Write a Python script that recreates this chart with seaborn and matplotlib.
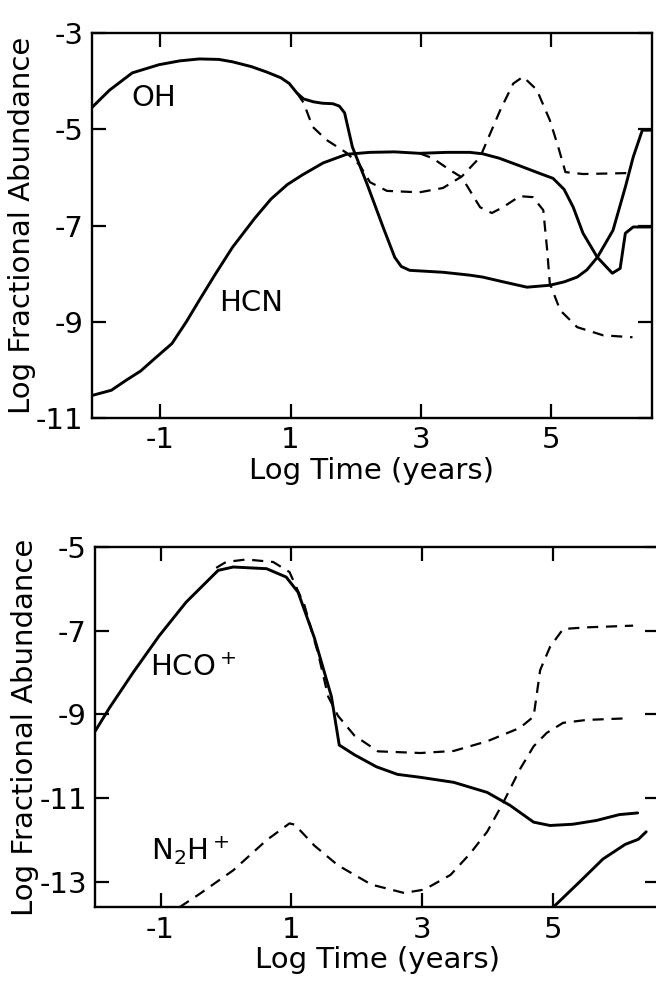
import matplotlib
matplotlib.use("Agg")
import matplotlib.pyplot as plt
import seaborn as sns

# ---- top panel: OH and HCN ----
oh_x = [-2.05, -1.78, -1.43, -1.02, -0.70, -0.40, -0.10, 0.11, 0.40, 0.63, 0.85, 0.98,
        1.10, 1.20, 1.35, 1.49, 1.65, 1.75, 1.83, 1.95, 2.17, 2.42, 2.60, 2.70, 2.83,
        3.34, 3.75, 3.95, 4.30, 4.63, 4.98, 5.20, 5.40, 5.55, 5.71, 5.95, 6.14, 6.26,
        6.40, 6.52]
oh_y = [-4.55, -4.19, -3.83, -3.66, -3.58, -3.54, -3.55, -3.60, -3.70, -3.81, -3.93, -4.05,
        -4.25, -4.37, -4.43, -4.46, -4.47, -4.52, -4.66, -5.37, -6.12, -7.03, -7.66, -7.85,
        -7.93, -7.97, -8.03, -8.07, -8.18, -8.28, -8.24, -8.17, -8.07, -7.92, -7.66, -7.10,
        -6.20, -5.58, -5.02, -5.02]

oh_alt_x = [1.10, 1.20, 1.34, 1.55, 1.86, 2.06, 2.22, 2.48, 2.98, 3.34, 3.63, 3.91,
            4.22, 4.42, 4.57, 4.78, 4.98, 5.11, 5.22, 5.49, 6.20]
oh_alt_y = [-4.25, -4.45, -4.95, -5.22, -5.49, -5.74, -6.10, -6.28, -6.31, -6.22, -5.98, -5.58,
            -4.60, -4.05, -3.91, -4.18, -4.81, -5.37, -5.89, -5.93, -5.91]

hcn_x = [-2.05, -1.75, -1.52, -1.30, -1.10, -0.82, -0.60, -0.40, -0.15, 0.11, 0.45, 0.70,
         0.95, 1.18, 1.50, 1.86, 2.22, 2.60, 2.98, 3.40, 3.75, 3.95, 4.20, 4.48, 4.83, 5.03,
         5.20, 5.34, 5.49, 5.71, 5.94, 6.06, 6.14, 6.26, 6.52]
hcn_y = [-10.53, -10.42, -10.21, -10.02, -9.78, -9.45, -9.00, -8.55, -8.00, -7.45, -6.85, -6.45,
         -6.15, -5.95, -5.70, -5.52, -5.48, -5.47, -5.50, -5.48, -5.48, -5.51, -5.60, -5.74,
         -5.92, -6.02, -6.25, -6.62, -7.16, -7.66, -7.99, -7.89, -7.16, -7.03, -7.03]

hcn_alt_x = [2.98, 3.18, 3.45, 3.63, 3.91, 4.09, 4.26, 4.52, 4.72, 4.88, 4.94, 4.98,
             5.14, 5.40, 5.80, 6.25]
hcn_alt_y = [-5.50, -5.60, -5.85, -6.00, -6.62, -6.74, -6.62, -6.39, -6.41, -6.68, -7.51, -8.20,
             -8.76, -9.11, -9.28, -9.32]

# ---- bottom panel: HCO+ and N2H+ ----
hco_x = [-2.00, -1.78, -1.42, -1.02, -0.61, -0.12, 0.11, 0.62, 0.92, 1.10, 1.35, 1.61,
         1.73, 1.96, 2.30, 2.62, 2.97, 3.48, 3.99, 4.34, 4.70, 4.95, 5.30, 5.66, 6.01, 6.29]
hco_y = [-9.40, -8.84, -8.00, -7.12, -6.32, -5.56, -5.48, -5.52, -5.72, -6.08, -7.17, -8.57,
         -9.73, -9.96, -10.25, -10.43, -10.50, -10.62, -10.86, -11.17, -11.57, -11.65, -11.62,
         -11.53, -11.39, -11.35]

hco_alt_x = [-0.15, 0.00, 0.31, 0.72, 0.97, 1.20, 1.41, 1.56, 1.71, 1.96, 2.32, 2.97,
             3.48, 3.99, 4.49, 4.70, 4.80, 4.95, 5.15, 5.51, 6.22]
hco_alt_y = [-5.50, -5.36, -5.30, -5.36, -5.60, -6.40, -7.56, -8.57, -9.03, -9.50, -9.88, -9.92,
             -9.87, -9.64, -9.32, -9.05, -7.94, -7.39, -6.96, -6.92, -6.88]

n2h_x = [-0.71, -0.40, 0.11, 0.62, 0.97, 1.05, 1.35, 1.71, 2.22, 2.72, 3.03, 3.43, 3.73,
         3.99, 4.24, 4.49, 4.70, 4.90, 5.15, 5.51, 6.16]
n2h_y = [-13.60, -13.28, -12.72, -12.00, -11.60, -11.63, -12.13, -12.60, -13.06, -13.26, -13.18,
         -12.83, -12.32, -11.80, -11.09, -10.31, -9.76, -9.44, -9.20, -9.13, -9.09]

n2h_alt_x = [5.00, 5.40, 5.76, 6.10, 6.30, 6.42]
n2h_alt_y = [-13.60, -13.00, -12.45, -12.10, -11.98, -11.80]

x_ticks = [-1, 1, 3, 5]
top_y_ticks = [-3, -5, -7, -9, -11]
bot_y_ticks = [-5, -7, -9, -11, -13]

sns.set_style("ticks")
plt.rcParams["font.family"] = ["DejaVu Sans"]
plt.rcParams["axes.unicode_minus"] = False
plt.rcParams["text.color"] = "black"
plt.rcParams["axes.labelcolor"] = "black"

FS = 21
fig = plt.figure(figsize=(6.56, 9.98), dpi=100)
ax1 = fig.add_axes([0.140, 0.581, 0.854, 0.386])
ax2 = fig.add_axes([0.145, 0.091, 0.860, 0.361])

dash = (0, (5, 3.5))


def curve(ax, x, y, dashed=False):
    sns.lineplot(x=x, y=y, ax=ax, color="black", sort=False, estimator=None,
                 linewidth=1.6 if dashed else 2.1,
                 linestyle=dash if dashed else "-")


curve(ax1, oh_x, oh_y)
curve(ax1, oh_alt_x, oh_alt_y, dashed=True)
curve(ax1, hcn_x, hcn_y)
curve(ax1, hcn_alt_x, hcn_alt_y, dashed=True)
ax1.set_xlim(-2.05, 6.55)
ax1.set_ylim(-11, -3)
ax1.set_yticks(top_y_ticks)
ax1.text(-1.1, -4.35, "OH", fontsize=FS, ha="center", va="center")
ax1.text(0.4, -8.6, "HCN", fontsize=FS, ha="center", va="center")

curve(ax2, hco_x, hco_y)
curve(ax2, hco_alt_x, hco_alt_y, dashed=True)
curve(ax2, n2h_x, n2h_y, dashed=True)
curve(ax2, n2h_alt_x, n2h_alt_y)
ax2.set_xlim(-2.0, 6.62)
ax2.set_ylim(-13.6, -5)
ax2.set_yticks(bot_y_ticks)
ax2.spines["right"].set_visible(False)
ax2.text(-0.5, -7.9, "HCO$^+$", fontsize=FS, ha="center", va="center")
ax2.text(-0.55, -12.25, "N$_2$H$^+$", fontsize=FS, ha="center", va="center")

for ax in (ax1, ax2):
    ax.set_xticks(x_ticks)
    ax.tick_params(direction="in", length=10, width=1.6, top=True, right=True,
                   labelsize=FS, pad=6, color="black", labelcolor="black")
    for s in ax.spines.values():
        s.set_linewidth(1.7)
        s.set_color("black")
    ax.set_xlabel("Log Time (years)", fontsize=FS, labelpad=2)
    ax.set_ylabel("Log Fractional Abundance", fontsize=FS, labelpad=0)

fig.savefig("out.png", dpi=100)
